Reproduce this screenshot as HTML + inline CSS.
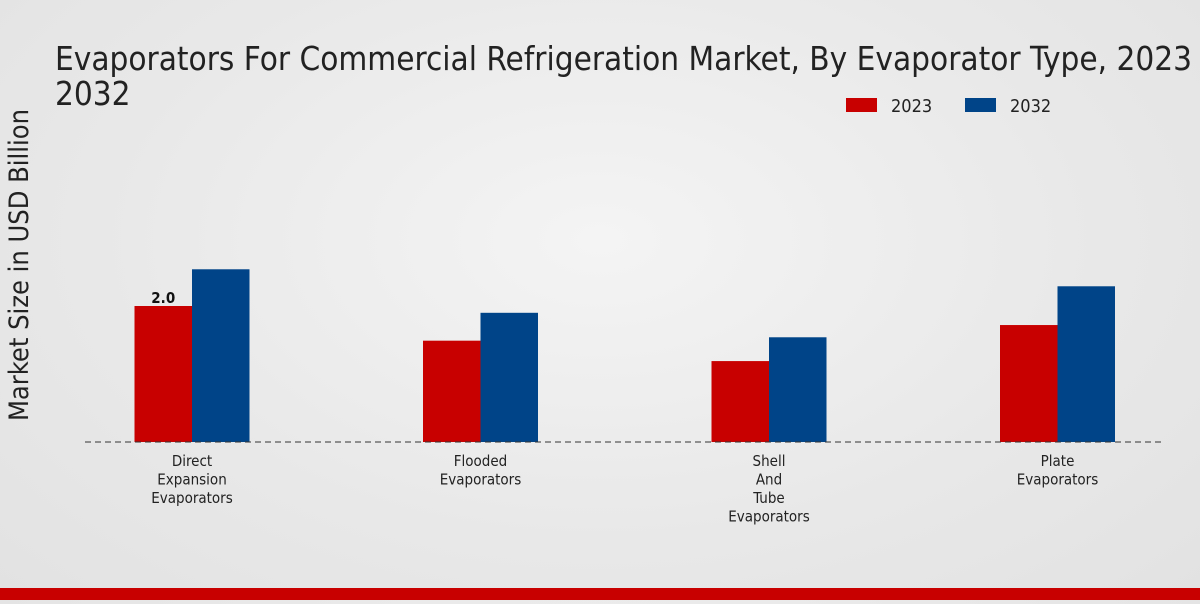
<!DOCTYPE html>
<html><head><meta charset="utf-8">
<style>
html,body{margin:0;padding:0;}
body{width:1200px;height:600px;overflow:hidden;background:radial-gradient(ellipse at 50% 40%,#f4f4f4 0%,#e8e8e8 60%,#e2e2e2 100%);font-family:"DejaVu Sans Condensed","DejaVu Sans","Liberation Sans",sans-serif;font-stretch:condensed;}
svg text{font-family:"DejaVu Sans Condensed","DejaVu Sans","Liberation Sans",sans-serif;font-stretch:condensed;}
</style></head>
<body>
<svg id="chart" width="1200" height="600">
  <text x="55" y="70" font-size="33" fill="#222">Evaporators For Commercial Refrigeration Market, By Evaporator Type, 2023 -</text>
  <text x="55" y="105" font-size="33" fill="#222">2032</text>
  <text transform="translate(28,265) rotate(-90)" text-anchor="middle" font-size="27" fill="#222">Market Size in USD Billion</text>
  <g>
    <rect x="846" y="98" width="31" height="14" fill="#c80000"></rect>
    <text x="891" y="112" font-size="18" fill="#222">2023</text>
    <rect x="965" y="98" width="31" height="14" fill="#004488"></rect>
    <text x="1010" y="112" font-size="18" fill="#222">2032</text>
  </g>
  <g id="bars"></g>
  <line x1="85" y1="442" x2="1165" y2="442" stroke="#333" stroke-dasharray="6,4" stroke-width="1"></line>
  <g id="labels"></g>
  <rect x="0" y="588" width="1200" height="12" fill="#c80000"></rect>
</svg>
<script>
const categories = [["Direct","Expansion","Evaporators"],["Flooded","Evaporators"],["Shell","And","Tube","Evaporators"],["Plate","Evaporators"]];
const values2023 = [2.0, 1.49, 1.19, 1.72];
const values2032 = [2.54, 1.9, 1.54, 2.29];
const valueLabels = ["2.0", "", "", ""];

const ns = "http://www.w3.org/2000/svg";
const baseY = 442, pxPerUnit = 68, barW = 57.5;
function yScale(v){ return baseY - v * pxPerUnit; }
function xCenter(i){ return 192 + i * 288.5; }
const bars = document.getElementById('bars');
const labels = document.getElementById('labels');
categories.forEach((cat, i) => {
  const cx = xCenter(i);
  [[values2023[i], cx - barW, '#c80000', '2023'], [values2032[i], cx, '#004488', '2032']].forEach(([v, x, c, s]) => {
    const r = document.createElementNS(ns, 'rect');
    r.setAttribute('x', x); r.setAttribute('y', yScale(v));
    r.setAttribute('width', barW); r.setAttribute('height', baseY - yScale(v));
    r.setAttribute('fill', c);
    
    
    bars.appendChild(r);
  });
  if (valueLabels[i]) {
    const t = document.createElementNS(ns, 'text');
    t.setAttribute('x', cx - barW / 2); t.setAttribute('y', yScale(values2023[i]) - 3);
    t.setAttribute('text-anchor', 'middle'); t.setAttribute('font-size', '15');
    t.setAttribute('font-weight', 'bold'); t.setAttribute('fill', '#111');
    t.textContent = valueLabels[i];
    
    
    bars.appendChild(t);
  }
  cat.forEach((line, j) => {
    const t = document.createElementNS(ns, 'text');
    t.setAttribute('x', cx); t.setAttribute('y', 466 + j * 18.5);
    t.setAttribute('text-anchor', 'middle'); t.setAttribute('font-size', '15');
    t.setAttribute('fill', '#222');
    t.textContent = line;
    
    
    labels.appendChild(t);
  });
});
</script>
</body></html>
